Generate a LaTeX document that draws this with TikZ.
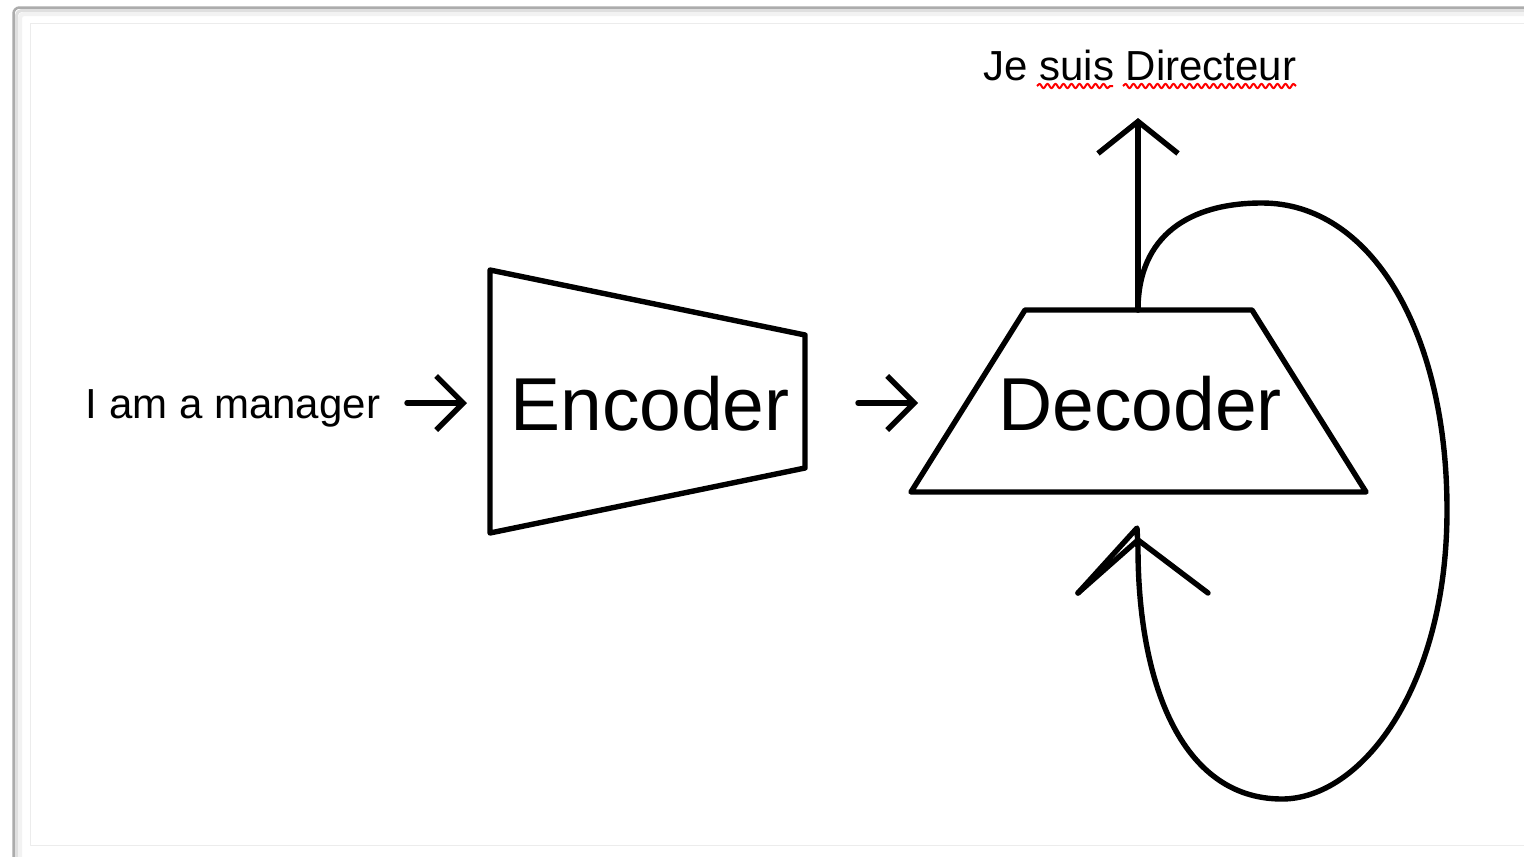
\documentclass[tikz,border=0pt]{standalone}
\usepackage{fontspec}
\setmainfont{Liberation Sans}
\usetikzlibrary{arrows.meta, decorations.pathmorphing}

\begin{document}
\begin{tikzpicture}[x=1pt, y=-1pt, line width=5.4pt, line cap=round, line join=round,
        >={Straight Barb[length=27pt, width=54pt]},
        word/.style={inner sep=0pt, anchor=base, font=\fontsize{42}{50}\selectfont},
        block/.style={inner sep=0pt, anchor=base, font=\fontsize{75}{90}\selectfont},
        spell/.style={red, line width=2pt, line cap=butt, decorate,
            decoration={snake, segment length=8pt, amplitude=2.2pt}}]

        % ==========================================
        % 0. 슬라이드 틀 (frame)
        % ==========================================
        \useasboundingbox (0,0) rectangle (1524,857);
        \fill[white] (0,0) rectangle (1524,857);
        \draw[gray!65, line width=2.5pt, rounded corners=6pt] (13.5,7.5) rectangle (1560,900);
        \draw[gray!25, line width=3pt, rounded corners=5pt] (16.5,10.5) rectangle (1560,900);
        \draw[gray!10, line width=4pt, rounded corners=4pt] (20,14) rectangle (1560,900);
        \draw[gray!15, line width=1pt] (30,23) rectangle (1560,845);

        % ==========================================
        % 1. Encoder (입력 문장 -> 인코더)
        % ==========================================
        \node[word] (src) at (233,418) {I am a manager};
        \coordinate (a1) at (407,403);
        \coordinate (b1) at (467,403);
        \draw[->] (a1) -- (b1);

        % 오른쪽이 좁아지는 사다리꼴
        \draw (490,270) -- (805,335) -- (805,468) -- (490,533) -- cycle;
        \node[block] (enc) at (650,430) {Encoder};

        \coordinate (a2) at (858,403);
        \coordinate (b2) at (918,403);
        \draw[->] (a2) -- (b2);

        % ==========================================
        % 2. Decoder (출력 + 되먹임 루프)
        % ==========================================
        \draw (1025,310) -- (1252,310) -- (1366,492) -- (911,492) -- cycle;
        \node[block] (dec) at (1140,430) {Decoder};

        % 위쪽 출력 화살표
        \coordinate (top) at (1138,310);
        \coordinate (out) at (1138,118);
        \draw[-{Straight Barb[length=32pt, width=80pt]}] (top) -- (out);
        \node[word] (tgt) at (1140,80) {Je suis Directeur};
        \draw[spell] (1037,86) -- (1113,86);
        \draw[spell] (1123,86) -- (1296,86);

        % 오른쪽을 돌아 아래로 들어오는 루프
        \coordinate (back) at (1138,540);
        \draw (top) .. controls (1138,235) and (1190,203) .. (1262,203)
            .. controls (1370,203) and (1447,330) .. (1447,510)
            .. controls (1447,690) and (1360,799) .. (1282,799)
            .. controls (1180,799) and (1138,680) .. (1138,548)
            -- (1137,528) -- (1078,593);
        \draw (1078,593) -- (back) -- (1208,593);

    \end{tikzpicture}
\end{document}
